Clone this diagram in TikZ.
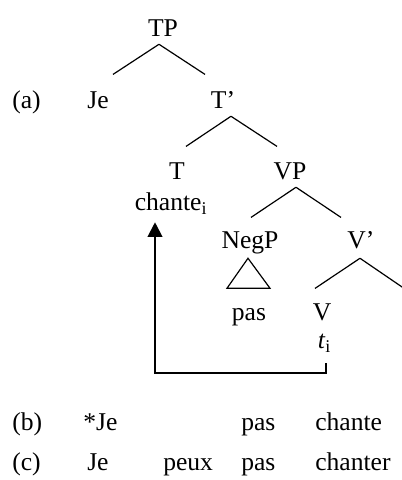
\documentclass[tikz,border=0pt]{standalone}
\usepackage{fontspec}
\setmainfont{Liberation Serif}
\usetikzlibrary{arrows.meta}

\begin{document}
\begin{tikzpicture}[x=0.75pt, y=-0.75pt,
    lbl/.style={inner sep=0pt, anchor=base, text height=13pt, text depth=0pt,
        font=\fontsize{19.2}{23}\selectfont},
    word/.style={lbl, anchor=base west},
    branch/.style={line width=0.9pt},
    move/.style={line width=1.5pt, -{Triangle[length=11pt, width=11pt]}}]
    \useasboundingbox (0,0) rectangle (402,480);

    % Tree (a)
    \node[word] (exa) at (12,108) {(a)};
    \node[lbl] (TP) at (163,36) {TP};
    \node[lbl] (Je) at (98,108) {Je};
    \node[lbl] (Tbar) at (223,108) {T’};
    \node[lbl] (T) at (177,179) {T};
    \node[lbl] (chante) at (171,210) {chante\textsubscript{i}};
    \node[lbl] (VP) at (290,179) {VP};
    \node[lbl] (NegP) at (250,248) {NegP};
    \node[lbl] (pas) at (249,320) {pas};
    \node[lbl] (Vbar) at (361,248) {V’};
    \node[lbl] (V) at (322,320) {V};
    \node[lbl] (trace) at (324.5,348) {\textit{t}\textsubscript{i}};
    \coordinate (Vright) at (405,289);

    % Branches
    \draw[branch] ([shift={(-4,8)}]TP.south) -- ([shift={(15,-16)}]Je.north);
    \draw[branch] ([shift={(-4,8)}]TP.south) -- ([shift={(-18,-16)}]Tbar.north);
    \draw[branch] ([shift={(8,8)}]Tbar.south) -- ([shift={(9,-15)}]T.north);
    \draw[branch] ([shift={(8,8)}]Tbar.south) -- ([shift={(-13,-15)}]VP.north);
    \draw[branch] ([shift={(6,8)}]VP.south) -- ([shift={(1,-13)}]NegP.north);
    \draw[branch] ([shift={(6,8)}]VP.south) -- ([shift={(-20,-13)}]Vbar.north);
    \draw[branch] ([shift={(-1,10)}]Vbar.south) -- ([shift={(-7,-14)}]V.north);
    \draw[branch] ([shift={(-1,10)}]Vbar.south) -- (Vright);

    % Triangle over pas
    \draw[branch] ([shift={(-2,10)}]NegP.south) -- ++(-21,30) -- ++(43,0) -- cycle;

    % Head movement
    \draw[move] ([shift={(1.5,15)}]trace.south) -- ++(0,10) -| ([shift={(-16,12)}]chante.south);

    % Examples (b) and (c)
    \node[word] (exb) at (12,430) {(b)};
    \node[word] (bJe) at (83,430) {*Je};
    \node[word] (bpas) at (241,430) {pas};
    \node[word] (bchante) at (315,430) {chante};
    \node[word] (exc) at (12,470) {(c)};
    \node[word] (cJe) at (87,470) {Je};
    \node[word] (cpeux) at (163,470) {peux};
    \node[word] (cpas) at (241,470) {pas};
    \node[word] (cchanter) at (315,470) {chanter};
\end{tikzpicture}
\end{document}
